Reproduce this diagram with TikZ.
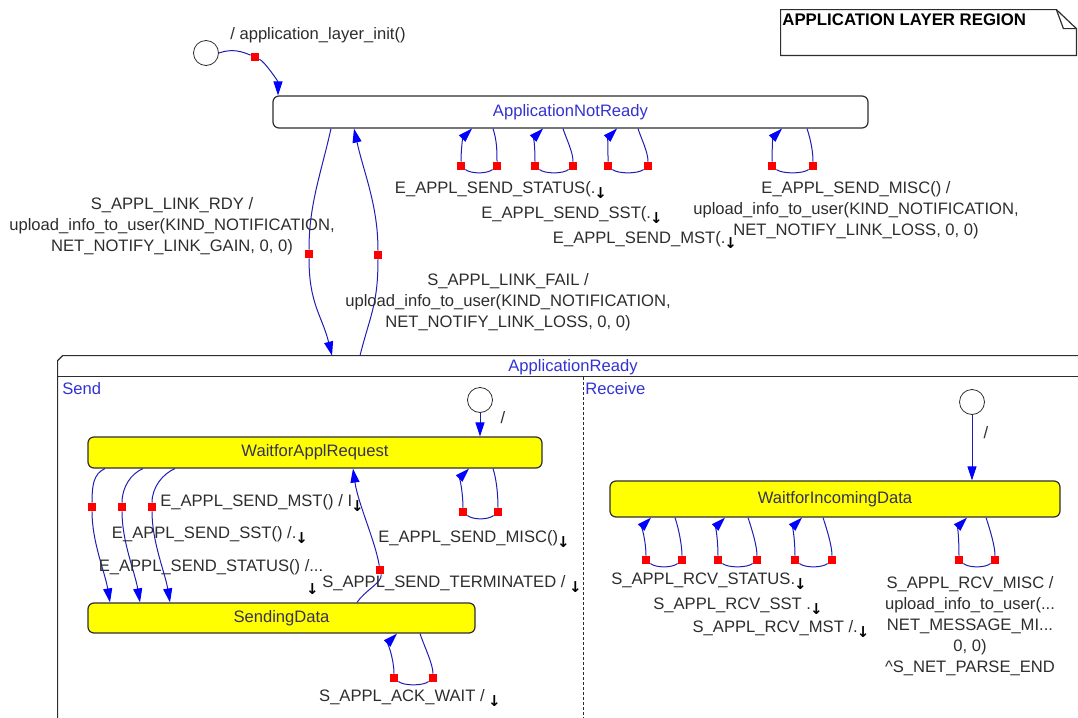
\documentclass[tikz,border=0pt]{standalone}
\usepackage{fontspec}
\setmainfont{Liberation Sans}
\newfontfamily\arrfont{DejaVu Sans}
\usetikzlibrary{arrows.meta}
\definecolor{txtgray}{RGB}{45,45,45}
\definecolor{stblue}{RGB}{50,50,210}
\definecolor{trblue}{RGB}{30,30,180}
\definecolor{stfill}{RGB}{255,255,0}
\newcommand{\dn}{\kern-0.5pt\raisebox{-2.5pt}{\arrfont\bfseries\fontsize{7.5}{7.5}\selectfont\color{black}↓}}

\begin{document}
\begin{tikzpicture}[x=0.5pt,y=-0.5pt,
	every node/.style={font=\fontsize{8.3}{10.5}\selectfont, text=txtgray},
	initst/.style={draw=txtgray, circle, minimum size=12.5pt, inner sep=0pt},
	superst/.style={draw=txtgray, line width=0.6pt, rounded corners=3pt, inner sep=0pt, text=stblue},
	simplest/.style={superst, fill=stfill, text={rgb,255:red,55;green,50;blue,85}},
	regline/.style={draw=txtgray, line width=0.6pt},
	knot/.style={fill=red, minimum size=4pt, inner sep=0pt},
	trans/.style={draw=trblue, line width=0.5pt, -{Triangle[length=7pt,width=4.5pt,color=blue]}},
	lbl/.style={align=center, inner sep=0pt}]
	\useasboundingbox (0,0) rectangle (1078,718);

	\node[minimum width=147.5pt, minimum height=22.5pt, inner sep=0pt] (note) at (928.5,32.5) {};
	\draw[regline] (note.south west) -- (note.north west) -- ([xshift=-10pt]note.north east) -- ([yshift=-9.5pt]note.north east) -- (note.south east) -- cycle;
	\draw[regline] ([xshift=-10pt]note.north east) -- ([xshift=-6.5pt,yshift=-9.5pt]note.north east) -- ([yshift=-9.5pt]note.north east);
	\node[anchor=west, inner sep=0pt, font=\bfseries\fontsize{8.4}{10}\selectfont, text=black] (notettl) at (782,20) {APPLICATION LAYER REGION};

	\node[superst, minimum width=297.5pt, minimum height=16pt] (anr) at (570.5,112) {ApplicationNotReady};
	\node[minimum width=521pt, minimum height=192pt, inner sep=0pt] (ar) at (579,548) {};
	\draw[regline] (ar.south west) -- ([yshift=-2.5pt]ar.north west) -- ([xshift=2.5pt]ar.north west) -- (ar.north east);
	\draw[regline] ([yshift=-10.5pt]ar.north west) -- ([yshift=-10.5pt]ar.north east);
	\node[text=stblue] (artitle) at (573,367) {ApplicationReady};
	\draw[txtgray, line width=0.5pt, dash pattern=on 1.5pt off 1pt] (583,377) -- (583,720);
	\node[anchor=west, inner sep=0pt, text=stblue] (sendlbl) at (62,389) {Send};
	\node[anchor=west, inner sep=0pt, text=stblue] (rcvlbl) at (585,389) {Receive};

	\node[simplest, minimum width=227pt, minimum height=15.5pt] (war) at (315,452.5) {WaitforApplRequest};
	\node[simplest, minimum width=193.5pt, minimum height=15pt] (sd) at (281.5,618) {SendingData};
	\node[simplest, minimum width=225pt, minimum height=18pt] (wid) at (835,499) {WaitforIncomingData};

	\node[initst] (init0) at (206,53) {};
	\node[initst] (init1) at (480,400) {};
	\node[initst] (init2) at (972,402) {};

	\node[knot] (k0) at (255,57) {};
	\draw[trans] (init0.east) .. controls +(14,-5) and +(-12,-5) .. (k0) .. controls +(10,5) and +(0,-14) .. (anr.north -| 278,0);
	\node (l0) at (318,35) {/ application\_layer\_init()};
	\draw[trans] (init1) -- (war.north -| init1);
	\node (l1) at (503,418) {/};
	\draw[trans] (init2) -- (wid.north -| init2);
	\node (l2) at (986,433) {/};

	\node[knot] (k1) at (309,254) {};
	\node[knot] (k2) at (378,255) {};
	\draw[trans] (anr.south -| 331,0) .. controls +(-10,45) and +(0,-50) .. (k1) .. controls +(0,50) and +(-10,-40) .. (ar.north -| 332,0);
	\draw[trans] (ar.north -| 360,0) .. controls +(10,-40) and +(0,50) .. (k2) .. controls +(0,-50) and +(10,45) .. (anr.south -| 354,0);
	\node[lbl] (rdy) at (172,226) {S\_APPL\_LINK\_RDY /\\upload\_info\_to\_user(KIND\_NOTIFICATION,\\NET\_NOTIFY\_LINK\_GAIN, 0, 0)};
	\node[lbl] (fail) at (508,302) {S\_APPL\_LINK\_FAIL /\\upload\_info\_to\_user(KIND\_NOTIFICATION,\\NET\_NOTIFY\_LINK\_LOSS, 0, 0)};

	\foreach \n/\xl/\xr/\xt/\xs in {a/461/497/472/493, b/535/573/543/563, c/608/648/617/638, d/772/813/782/807} {
		\node[knot] (nl\n) at (\xl,166) {};
		\node[knot] (nr\n) at (\xr,166) {};
		\draw[trans] (anr.south -| \xs,0) .. controls +(4,12) and +(0,-14) .. (nr\n) .. controls +(-10,8) and +(10,8) .. (nl\n) .. controls +(0,-18) and +(-9,9) .. (anr.south -| \xt,0);
	}
	\node (la1) at (501,190) {E\_APPL\_SEND\_STATUS(.\dn};
	\node (la2) at (572,215) {E\_APPL\_SEND\_SST(.\dn};
	\node (la3) at (645,240) {E\_APPL\_SEND\_MST(.\dn};
	\node[lbl] (la4) at (856,210) {E\_APPL\_SEND\_MISC() /\\upload\_info\_to\_user(KIND\_NOTIFICATION,\\NET\_NOTIFY\_LINK\_LOSS, 0, 0)};

	\foreach \n/\xs/\xk/\xt in {a/105/92/110, b/143/122/140, c/175/152/170} {
		\node[knot] (sk\n) at (\xk,507) {};
		\draw[trans] (war.south -| \xs,0) .. controls +(-12,5) and +(0,-20) .. (sk\n) .. controls +(0,35) and +(-5,-30) .. (sd.north -| \xt,0);
	}
	\node[knot] (tk) at (380,570) {};
	\draw[trans] (sd.north -| 357,0) .. controls +(8,-12) and +(3,12) .. (tk) .. controls +(-5,-30) and +(5,35) .. (war.south -| 353,0);
	\node[knot] (wl) at (463,512) {};
	\node[knot] (wr) at (498,512) {};
	\draw[trans] (war.south -| 493,0) .. controls +(4,12) and +(0,-14) .. (wr) .. controls +(-10,8) and +(10,8) .. (wl) .. controls +(0,-18) and +(-9,9) .. (war.south -| 469,0);
	\node[knot] (sl) at (394,678) {};
	\node[knot] (sr) at (433,678) {};
	\draw[trans] (sd.south -| 420,0) .. controls +(4,12) and +(0,-14) .. (sr) .. controls +(-10,8) and +(10,8) .. (sl) .. controls +(0,-18) and +(-9,9) .. (sd.south -| 397,0);
	\node (ls1) at (262,503) {E\_APPL\_SEND\_MST() / I\dn};
	\node (ls2) at (210,535) {E\_APPL\_SEND\_SST() /.\dn};
	\node (ls3) at (211,567) {E\_APPL\_SEND\_STATUS() /...};
	\node[inner sep=0pt] (ls3a) at (313,589) {\dn};
	\node[inner sep=0pt] (ls5) at (452,584) {S\_APPL\_SEND\_TERMINATED / \dn};
	\node (ls4) at (474,539) {E\_APPL\_SEND\_MISC()\dn};
	\node (ls6) at (410,698) {S\_APPL\_ACK\_WAIT / \dn};

	\foreach \n/\xl/\xr/\xt/\xs in {a/646/682/651/675, b/718/757/725/748, c/795/832/802/823, d/959/995/967/986} {
		\node[knot] (il\n) at (\xl,560) {};
		\node[knot] (ir\n) at (\xr,560) {};
		\draw[trans] (wid.south -| \xs,0) .. controls +(4,12) and +(0,-14) .. (ir\n) .. controls +(-10,8) and +(10,8) .. (il\n) .. controls +(0,-18) and +(-9,9) .. (wid.south -| \xt,0);
	}
	\node (lr1) at (709,581) {S\_APPL\_RCV\_STATUS.\dn};
	\node (lr2) at (738,606) {S\_APPL\_RCV\_SST .\dn};
	\node (lr3) at (781,629) {S\_APPL\_RCV\_MST /.\dn};
	\node[lbl] (lr4) at (970,626) {S\_APPL\_RCV\_MISC /\\upload\_info\_to\_user(...\\NET\_MESSAGE\_MI...\\0, 0)\\\textasciicircum S\_NET\_PARSE\_END};
\end{tikzpicture}
\end{document}
